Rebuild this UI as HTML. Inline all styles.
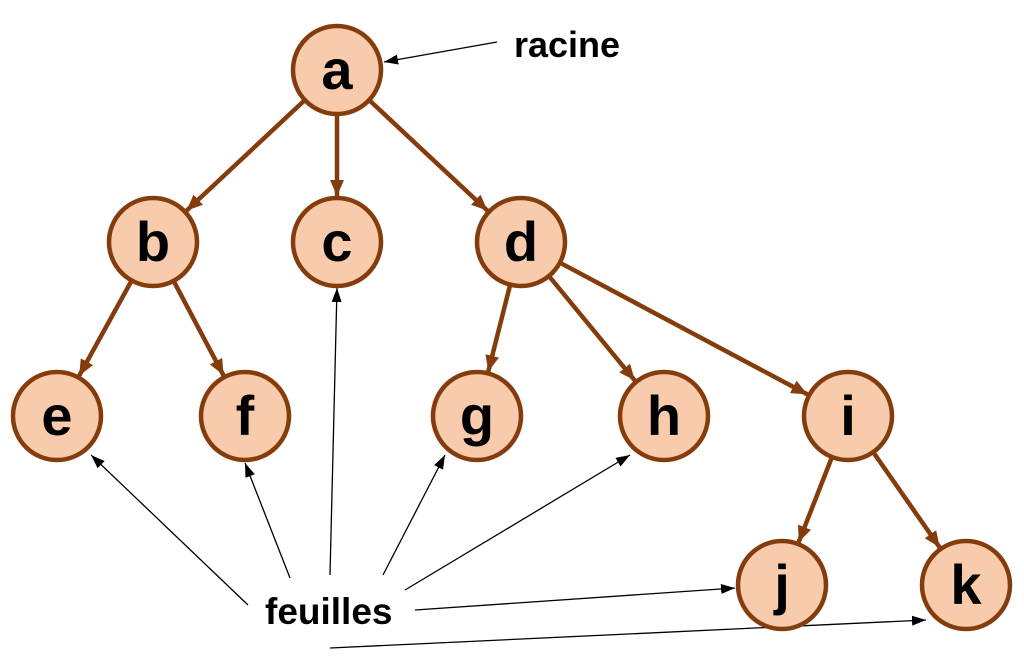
<!DOCTYPE html>
<html><head><meta charset="utf-8"><style>
html,body{margin:0;padding:0;background:#fff;}
svg{display:block;}
text{font-family:"Liberation Sans",sans-serif;font-weight:bold;}
</style></head><body>
<svg width="1024" height="671" viewBox="0 0 1024 671" xmlns="http://www.w3.org/2000/svg">
<defs>
<marker id="br" markerUnits="userSpaceOnUse" markerWidth="16" markerHeight="14" refX="16" refY="7" orient="auto">
<path d="M0,0 L16,7 L0,14 z" fill="#843c0c"/></marker>
<marker id="bk" markerUnits="userSpaceOnUse" markerWidth="14" markerHeight="10" refX="14" refY="5" orient="auto">
<path d="M0,0 L14,5 L0,10 z" fill="#000"/></marker>
</defs>
<g stroke="#843c0c" stroke-width="4.5" marker-end="url(#br)">
<line x1="304.9" y1="100" x2="186.6" y2="210.6"/>
<line x1="337" y1="114" x2="337" y2="196"/>
<line x1="369.1" y1="100" x2="487.4" y2="210.6"/>
<line x1="131.7" y1="280.5" x2="79.2" y2="375.7"/>
<line x1="173.6" y1="280.9" x2="223.5" y2="375.3"/>
<line x1="510.2" y1="284.6" x2="488.3" y2="371.4"/>
<line x1="548.9" y1="276" x2="634.8" y2="380.4"/>
<line x1="559.9" y1="262.7" x2="807.4" y2="394.4"/>
<line x1="832" y1="457" x2="798.7" y2="542.1"/>
<line x1="873.2" y1="452.1" x2="939.6" y2="547.3"/>
</g>
<g stroke="#000" stroke-width="1.3" marker-end="url(#bk)">
<line x1="497" y1="42" x2="384" y2="62"/>
<line x1="248" y1="605" x2="91" y2="455"/>
<line x1="290" y1="578" x2="245" y2="463"/>
<line x1="330" y1="575" x2="337" y2="288"/>
<line x1="383" y1="575" x2="445" y2="455"/>
<line x1="405" y1="590" x2="630" y2="455"/>
<line x1="415" y1="610" x2="735" y2="588"/>
<line x1="330" y1="648" x2="926" y2="620"/>
</g>
<g fill="#f8cbad" stroke="#843c0c" stroke-width="4.5">
<circle cx="337" cy="70" r="44"/>
<circle cx="153" cy="242" r="44"/>
<circle cx="337" cy="242" r="44"/>
<circle cx="521" cy="242" r="44"/>
<circle cx="57" cy="416" r="44"/>
<circle cx="245" cy="416" r="44"/>
<circle cx="477" cy="416" r="44"/>
<circle cx="664" cy="416" r="44"/>
<circle cx="848" cy="416" r="44"/>
<circle cx="782" cy="585" r="44"/>
<circle cx="966" cy="585" r="44"/>
</g>
<g font-size="56" text-anchor="middle" fill="#000">
<text x="337" y="89">a</text>
<text x="153" y="261">b</text>
<text x="337" y="261">c</text>
<text x="521" y="261">d</text>
<text x="57" y="435">e</text>
<text x="245" y="435">f</text>
<text x="477" y="435">g</text>
<text x="664" y="435">h</text>
<text x="848" y="435">i</text>
<text x="782" y="604">j</text>
<text x="966" y="604">k</text>
</g>
<text x="514" y="57" font-size="36">racine</text>
<text x="265" y="624" font-size="37">feuilles</text>
</svg>
</body></html>
